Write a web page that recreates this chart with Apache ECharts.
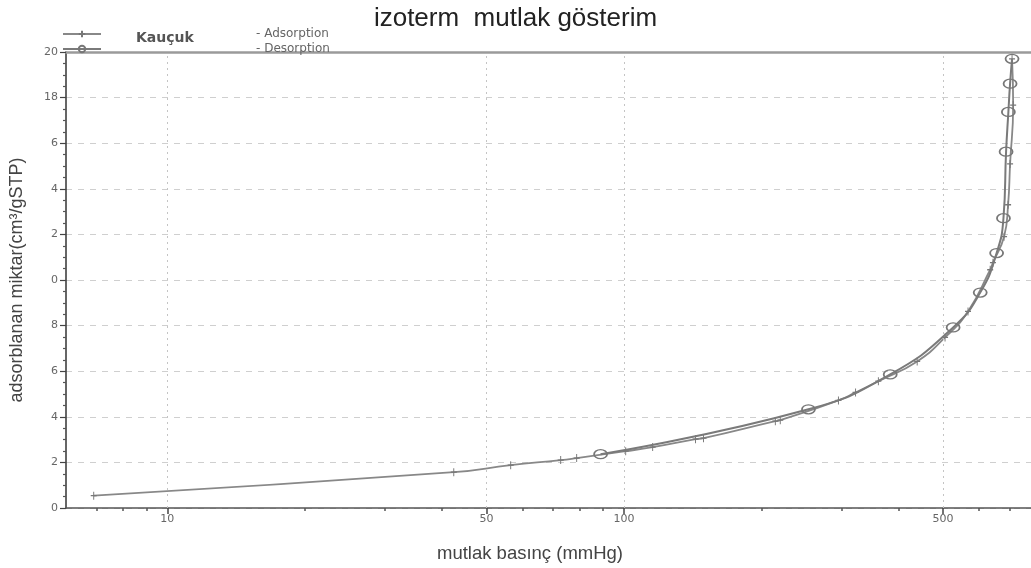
<!DOCTYPE html>
<html><head><meta charset="utf-8">
<script src="https://cdn.jsdelivr.net/npm/echarts@6/dist/echarts.min.js"></script>
<style>html,body{margin:0;padding:0;background:#fff}#c{width:1031px;height:568px}</style>
</head><body><div id="c"></div>
<script>
const titleText = 'izoterm  mutlak gösterim';
const xName = 'mutlak basınç (mmHg)';
const yName = 'adsorblanan miktar(cm³/gSTP)';
const sampleName = 'Kauçuk';
const seriesNames = ['- Adsorption', '- Desorption'];

const adsPressure = [6.9, 42.4, 56.5, 72.7, 78.8, 100.9, 115.6, 143.5, 149.4, 214.6, 220, 295, 321.6, 360.8, 438.8, 505, 567, 634, 643, 680, 694, 701, 712, 708];
const adsAmount   = [0.54, 1.57, 1.88, 2.10, 2.19, 2.49, 2.67, 3.02, 3.06, 3.81, 3.85, 4.72, 5.07, 5.56, 6.43, 7.48, 8.62, 10.45, 10.76, 11.9, 13.3, 15.09, 17.67, 19.7];

const desPressure = [708, 701, 695, 687, 678, 655, 603, 526, 383, 253.6, 88.9];
const desAmount   = [19.7, 18.61, 17.37, 15.63, 12.71, 11.18, 9.45, 7.92, 5.86, 4.33, 2.36];

const xMajorTicks = [10, 50, 100, 500];
const xMinorTicks = [7, 8, 9, 20, 30, 40, 60, 70, 80, 90, 200, 300, 400, 600, 700];
const yTickLabels = ['0', '2', '4', '6', '8', '0', '2', '4', '6', '18', '20'];

const X_MIN = 6, X_MAX = 779;

const chart = echarts.init(document.getElementById('c'), null, {renderer: 'canvas'});
const baseFont = 'DejaVu Sans';
const option = {
  animation: false,
  backgroundColor: '#fff',
  title: {
    text: titleText, left: 'center', top: 1,
    textStyle: {fontFamily: 'Liberation Sans', fontSize: 26, fontWeight: 'normal', color: '#222'}
  },
  legend: {
    data: seriesNames, orient: 'vertical', left: 62, top: 28,
    itemWidth: 38, itemHeight: 8, itemGap: 3, padding: 0,
    formatter: name => '{g|}{t|' + name + '}',
    textStyle: {
      lineHeight: 8,
      rich: {
        g: {width: 150},
        t: {fontFamily: baseFont, fontSize: 12, color: '#666', lineHeight: 8}
      }
    }
  },
  graphic: [{
    type: 'text', left: 136, top: 31,
    style: {text: sampleName, fontFamily: baseFont, fontSize: 14, fontWeight: 'bold', fill: '#555'}
  }],
  grid: {left: 64, right: 0, top: 52, bottom: 59},
  xAxis: [
    {
      type: 'log', logBase: 10, min: X_MIN, max: X_MAX, position: 'bottom',
      axisLine: {lineStyle: {color: '#555', width: 1.5}},
      axisTick: {show: true, customValues: xMajorTicks, length: 6, lineStyle: {color: '#444', width: 1.5}},
      axisLabel: {customValues: xMajorTicks, formatter: v => String(Math.round(v)), fontFamily: baseFont, fontSize: 11, color: '#666', margin: 6},
      splitLine: {show: false}, minorTick: {show: false},
      name: xName, nameLocation: 'middle', nameGap: 36,
      nameTextStyle: {fontFamily: 'Liberation Sans', fontSize: 18.5, color: '#444', padding: [0, 37, 0, 0]}
    },
    {
      type: 'log', logBase: 10, min: X_MIN, max: X_MAX, position: 'bottom',
      axisLine: {show: false},
      axisTick: {show: true, customValues: xMinorTicks, length: 3, lineStyle: {color: '#555', width: 1.5}},
      axisLabel: {show: false}, splitLine: {show: false}
    },
    {
      type: 'log', logBase: 10, min: X_MIN, max: X_MAX, position: 'top',
      axisLine: {show: true, lineStyle: {color: '#9a9a9a', width: 2.5}},
      axisTick: {show: false}, axisLabel: {show: false}, splitLine: {show: false}
    }
  ],
  yAxis: {
    type: 'value', min: 0, max: 20, interval: 2,
    axisLine: {show: true, lineStyle: {color: '#333', width: 1.5}},
    axisTick: {show: true, length: 6, lineStyle: {color: '#444', width: 1.2}},
    minorTick: {show: true, splitNumber: 4, length: 3, lineStyle: {color: '#555', width: 1.2}},
    axisLabel: {formatter: v => yTickLabels[Math.round(v / 2)], fontFamily: baseFont, fontSize: 11, color: '#666', margin: 8},
    splitLine: {show: true, lineStyle: {type: [6, 6], color: '#cfcfcf', width: 1}},
    name: yName, nameLocation: 'middle', nameGap: 40,
    nameTextStyle: {fontFamily: 'Liberation Sans', fontSize: 18, color: '#444'}
  },
  series: [
    {
      name: seriesNames[0], type: 'line', xAxisIndex: 0,
      data: adsPressure.map((p, i) => [p, adsAmount[i]]),
      smooth: 0.5,
      symbol: 'path://M0,0L0,10M-5,5L5,5', symbolSize: [6, 8],
      itemStyle: {color: '#777', borderColor: '#777', borderWidth: 1.1},
      lineStyle: {color: '#888', width: 1.8},
      z: 3,
      markLine: {
        silent: true, symbol: 'none', label: {show: false},
        lineStyle: {type: [2, 4], color: '#c4c4c4', width: 1},
        data: xMajorTicks.map(v => ({xAxis: v}))
      }
    },
    {
      name: seriesNames[1], type: 'line', xAxisIndex: 0,
      data: desPressure.map((p, i) => [p, desAmount[i]]),
      smooth: 0.5,
      symbol: 'circle', symbolSize: [13, 9],
      itemStyle: {color: 'rgba(255,255,255,0)', borderColor: '#777', borderWidth: 1.5},
      lineStyle: {color: '#7a7a7a', width: 2},
      z: 4
    }
  ]
};
chart.setOption(option);
</script>
</body></html>
